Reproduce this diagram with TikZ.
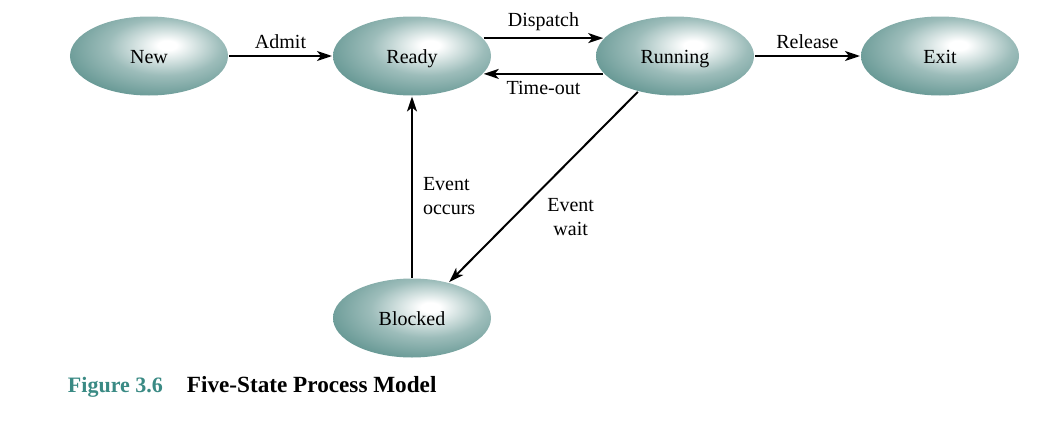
\documentclass[tikz,border=0pt]{standalone}
\usepackage{fontspec}
\setmainfont{Liberation Serif}
\usetikzlibrary{shapes.geometric, positioning, arrows.meta}
\definecolor{procteal}{RGB}{58,122,117}
\definecolor{figteal}{RGB}{58,138,132}
\pgfdeclareradialshading{procball}{\pgfpoint{6bp}{7bp}}{color(0bp)=(white); color(3bp)=(white); color(18bp)=(procteal!50!white); color(38bp)=(procteal!90!white); color(55bp)=(procteal); color(100bp)=(procteal)}

\begin{document}
\begin{tikzpicture}[node distance=131.5pt, ->, >={Stealth[length=7.5pt,width=5pt,inset=2pt]}, on grid, auto, line width=1pt,
    proc/.style={ellipse, minimum width=79pt, minimum height=39.5pt, shading=procball, inner sep=0pt, text height=8pt, text depth=1pt}]
      \useasboundingbox (-74.5pt,28pt) rectangle (456.5pt,-184pt);
      \node[proc] (new) {New};
      \node[proc, right=of new] (ready) {Ready};
      \node[proc, right=of ready] (running) {Running};
      \node[proc, right=132.5pt of running] (exit) {Exit};
      \node[proc, below=131pt of ready] (blocked) {Blocked};
      \path (new) edge node {Admit} (ready)
            (ready.14) edge node {Dispatch} (running.166)
            (running.-166) edge node {Time-out} (ready.-14)
            (running) edge node {Release} (exit)
            (blocked) edge node[swap, align=left, pos=0.45, inner sep=5pt] {Event\\occurs} (ready)
            (running.224) edge node[align=center, pos=0.52] {Event\\wait} (blocked.44);
      \node[anchor=base west, inner sep=0pt, font=\bfseries] (caption) at (-41pt,-168pt)
            {\fontsize{11}{13}\selectfont\textcolor{figteal}{Figure 3.6}\hspace{12pt}\fontsize{11.6}{13}\selectfont Five-State Process Model};
    \end{tikzpicture}
\end{document}
